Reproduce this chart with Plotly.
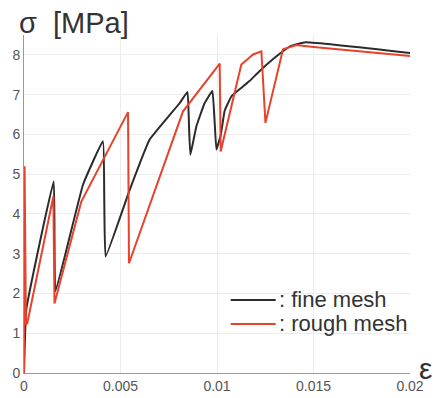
import plotly.graph_objects as go

# strain values and stress values (MPa)
fine_eps = [0.0, 0.00012, 0.00154, 0.00158, 0.00163, 0.00306, 0.00409, 0.00416, 0.00423,
            0.00548, 0.00651, 0.00807, 0.00847, 0.00855, 0.00862, 0.00893, 0.00936, 0.00976,
            0.00988, 0.00997, 0.0102, 0.0104, 0.01075, 0.0112, 0.0117, 0.0122, 0.0131,
            0.0138, 0.0146, 0.02]
fine_sig = [0.0, 1.6, 4.82, 3.4, 2.05, 4.74, 5.83, 4.3, 2.93,
            4.61, 5.87, 6.79, 7.07, 6.2, 5.49, 6.2, 6.79, 7.09,
            6.3, 5.62, 6.0, 6.6, 6.96, 7.15, 7.35, 7.59, 7.97,
            8.22, 8.32, 8.05]

rough_eps = [0.0, 0.00003, 0.0001, 0.00017, 0.00152, 0.00158, 0.00297, 0.00539, 0.00544,
             0.00824, 0.01014, 0.01019, 0.01126, 0.01187, 0.0123, 0.01251, 0.01342, 0.01411,
             0.015, 0.02]
rough_sig = [0.0, 5.2, 1.22, 1.25, 4.44, 1.75, 4.31, 6.56, 2.76,
             6.58, 7.78, 5.57, 7.76, 8.01, 8.09, 6.29, 8.14, 8.25,
             8.2, 7.97]

x_ticks = [0, 0.005, 0.01, 0.015, 0.02]
x_tick_text = ["0", "0.005", "0.01", "0.015", "0.02"]
y_ticks = [0, 1, 2, 3, 4, 5, 6, 7, 8]

series_names = [": fine mesh", ": rough mesh"]
series_colors = ["#2b2b2b", "#e8412c"]

fig = go.Figure()
fig.add_trace(go.Scatter(x=fine_eps, y=fine_sig, mode="lines", name=series_names[0],
                         line=dict(color=series_colors[0], width=2, shape="spline", smoothing=0.3)))
fig.add_trace(go.Scatter(x=rough_eps, y=rough_sig, mode="lines", name=series_names[1],
                         line=dict(color=series_colors[1], width=2)))

fig.update_layout(
    width=438, height=398,
    margin=dict(l=24, r=28, t=35, b=25),
    paper_bgcolor="white", plot_bgcolor="white",
    font=dict(family="Liberation Sans, Arial, sans-serif", color="#555555"),
    showlegend=False,
)
fig.update_xaxes(range=[0, 0.02], tickvals=x_ticks, ticktext=x_tick_text, automargin=False,
                 showgrid=True, gridcolor="#ececec", gridwidth=1,
                 showline=True, linecolor="#9a9a9a", linewidth=1,
                 zeroline=False, ticks="", tickfont=dict(size=14, color="#555555"))
fig.update_yaxes(range=[0, 8.5], tickvals=y_ticks, automargin=False,
                 showgrid=True, gridcolor="#ececec", gridwidth=1,
                 showline=True, linecolor="#9a9a9a", linewidth=1,
                 zeroline=False, ticks="", tickfont=dict(size=14, color="#555555"))

# manual legend
leg_rows = [0.216, 0.145]
for name, color, yy in zip(series_names, series_colors, leg_rows):
    fig.add_shape(type="line", xref="paper", yref="paper", x0=0.5355, x1=0.652, y0=yy, y1=yy,
                  line=dict(color=color, width=2))
    fig.add_annotation(text=name, xref="paper", yref="paper", x=0.656, y=yy,
                       xanchor="left", yanchor="middle", showarrow=False,
                       font=dict(size=22, color="#333333"))

fig.add_annotation(text="σ  [MPa]", xref="paper", yref="paper", x=-0.018, y=1.0,
                   xanchor="left", yanchor="bottom", showarrow=False,
                   font=dict(size=29, color="#333333"), yshift=-6)
fig.add_annotation(text="ε", xref="paper", yref="paper", x=1.0, y=0.0,
                   xanchor="left", yanchor="bottom", showarrow=False,
                   font=dict(size=30, color="#333333"), xshift=7, yshift=-14)

fig.write_html("out.html", config={"displayModeBar": False},
               post_script="document.body.style.margin='0';document.body.style.overflow='hidden';")
